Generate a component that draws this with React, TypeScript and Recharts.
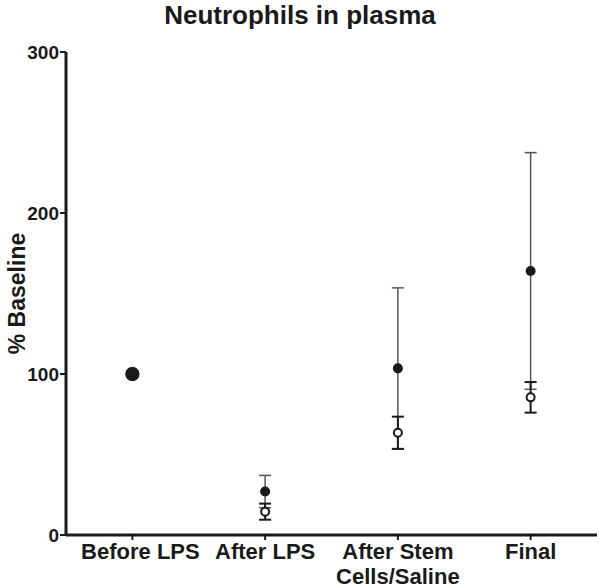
import { ComposedChart, ErrorBar, Line, XAxis, YAxis } from "recharts";

const categories = ["Before LPS", "After LPS", "After Stem\nCells/Saline", "Final"];
// filled circles
const filledMean = [100, 27, 103.5, 164];
const filledSem = [null, 10, 50, 73.5];
// open circles
const openMean = [100, 14.5, 63.5, 85.5];
const openSem = [null, 5, 10, 9.5];
const yTicks = [0, 100, 200, 300];

const data = categories.map((name, i) => ({
  name,
  filled: filledMean[i],
  filledErr: filledSem[i],
  open: openMean[i],
  openErr: openSem[i],
}));

const font = "'Liberation Sans', Arial, sans-serif";
const ink = "#1a1a1a";

function CategoryTick({ x, y, payload, index }: any) {
  const lines = String(payload.value).split("\n");
  // first label sits a little right of its tick, clear of the y axis
  const tx = x + (index === 0 ? 8 : 0);
  return (
    <text
      x={tx}
      y={y + 17}
      textAnchor="middle"
      fontFamily={font}
      fontWeight={700}
      fontSize={22}
      fill={ink}
    >
      {lines.map((l, i) => (
        <tspan key={i} x={tx} dy={i === 0 ? 0 : 25}>
          {l}
        </tspan>
      ))}
    </text>
  );
}

// the baseline point (no error) is drawn as one larger dot
function FilledDot({ cx, cy, payload, index }: any) {
  if (cx == null || cy == null) return null;
  const r = payload.filledErr == null ? 7 : 5;
  return <circle key={`f${index}`} cx={cx} cy={cy} r={r} fill={ink} />;
}

function OpenDot({ cx, cy, payload, index }: any) {
  if (cx == null || cy == null) return null;
  if (payload.openErr == null)
    return <circle key={`o${index}`} cx={cx} cy={cy} r={7} fill={ink} />;
  return (
    <circle key={`o${index}`} cx={cx} cy={cy} r={4} fill="#fff" stroke={ink} strokeWidth={2} />
  );
}

function YTitle({ viewBox }: any) {
  const cy = viewBox.y + viewBox.height / 2;
  return (
    <text
      x={25}
      y={cy}
      transform={`rotate(-90 25 ${cy})`}
      textAnchor="middle"
      fontFamily={font}
      fontWeight={700}
      fontSize={23}
      fill={ink}
    >
      % Baseline
    </text>
  );
}

export default function App() {
  return (
    <div style={{ position: "absolute", left: 0, top: 0, width: 600, height: 588, background: "#fff" }}>
      <div
        style={{
          position: "absolute",
          left: 0,
          top: 0,
          width: 600,
          textAlign: "center",
          fontFamily: font,
          fontWeight: 700,
          fontSize: 26,
          lineHeight: "30px",
          color: ink,
        }}
      >
        Neutrophils in plasma
      </div>
      <ComposedChart
        width={600}
        height={588}
        data={data}
        margin={{ top: 52, right: 3, bottom: 0, left: 0 }}
      >
        <XAxis
          dataKey="name"
          type="category"
          scale="band"
          height={53}
          axisLine={{ stroke: ink, strokeWidth: 3 }}
          tickLine={{ stroke: ink, strokeWidth: 2 }}
          tickSize={5}
          tick={<CategoryTick />}
          interval={0}
        />
        <YAxis
          type="number"
          domain={[0, 300]}
          ticks={yTicks}
          width={66}
          axisLine={{ stroke: ink, strokeWidth: 3 }}
          tickLine={{ stroke: ink, strokeWidth: 2 }}
          tickSize={6}
          tickMargin={1}
          tick={{ fontFamily: font, fontWeight: 700, fontSize: 19, fill: ink }}
          label={<YTitle />}
        />
        <Line
          dataKey="filled"
          stroke="none"
          dot={<FilledDot />}
          activeDot={false}
          isAnimationActive={false}
        >
          <ErrorBar dataKey="filledErr" width={6} stroke="#555" strokeWidth={1.5} direction="y" />
        </Line>
        <Line
          dataKey="open"
          stroke="none"
          dot={<OpenDot />}
          activeDot={false}
          isAnimationActive={false}
        >
          <ErrorBar dataKey="openErr" width={6} stroke={ink} strokeWidth={2} direction="y" />
        </Line>
      </ComposedChart>
    </div>
  );
}
